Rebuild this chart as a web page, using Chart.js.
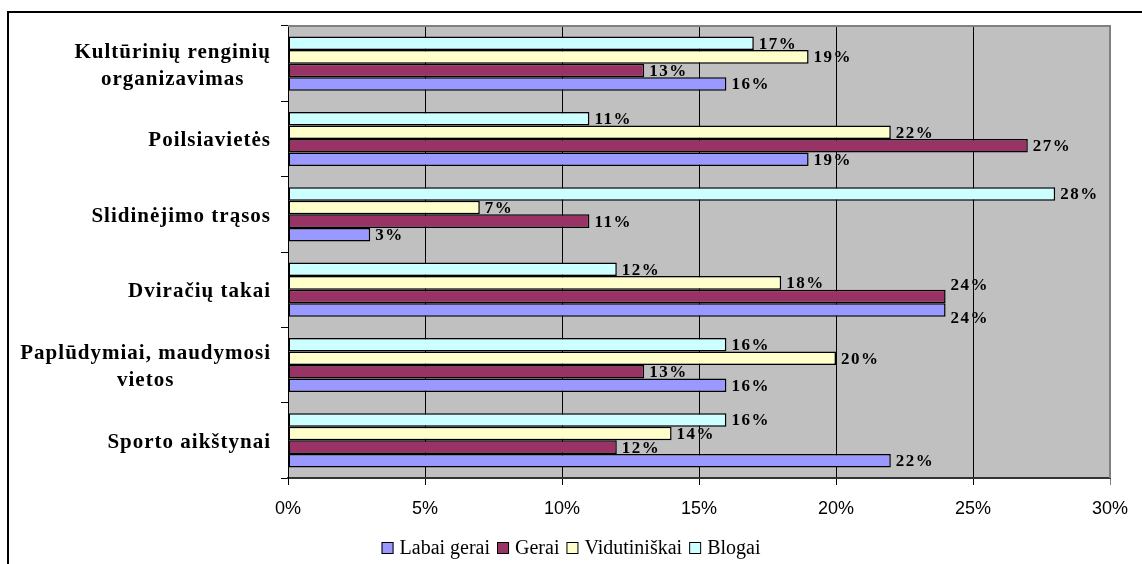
<!DOCTYPE html>
<html>
<head>
<meta charset="utf-8">
<script src="https://cdn.jsdelivr.net/npm/chart.js@4/dist/chart.umd.min.js"></script>
<style>
  html, body { margin: 0; padding: 0; background: #fff; }
  #wrap { position: relative; width: 1142px; height: 564px; overflow: hidden; }
  #frame { position: absolute; left: 7px; top: 11px; width: 1200px; height: 600px; border: 2px solid #000; }
  #statsChart { position: absolute; left: 0; top: 0; }
</style>
</head>
<body>
<div id="wrap">
  <div id="frame"></div>
  <canvas id="statsChart" width="1142" height="564"></canvas>
</div>
<script>
// categories, top to bottom
const categories = [
  ['Kultūrinių renginių', 'organizavimas'],
  ['Poilsiavietės'],
  ['Slidinėjimo trąsos'],
  ['Dviračių takai'],
  ['Paplūdymiai, maudymosi', 'vietos'],
  ['Sporto aikštynai']
];

// series values (%)
const labaiGerai   = [16, 19, 3, 24, 16, 22];
const gerai        = [13, 27, 11, 24, 13, 12];
const vidutiniskai = [19, 22, 7, 18, 20, 14];
const blogai       = [17, 11, 28, 12, 16, 16];

const xTicks = [0, 5, 10, 15, 20, 25, 30];

// legend order as in the picture
const legendOrder = ['Labai gerai', 'Gerai', 'Vidutiniškai', 'Blogai'];

const colors = {
  'Labai gerai': '#9999FF',
  'Gerai': '#993366',
  'Vidutiniškai': '#FFFFCC',
  'Blogai': '#CCFFFF'
};

document.addEventListener('DOMContentLoaded', () => {
  const ctx = document.getElementById('statsChart').getContext('2d');

  // gray plot background
  const plotBg = {
    id: 'plotBg',
    beforeDraw(chart) {
      const a = chart.chartArea, c = chart.ctx;
      c.save();
      c.fillStyle = '#C0C0C0';
      c.fillRect(a.left, a.top, a.right - a.left, a.bottom - a.top);
      c.restore();
    },
    afterDraw(chart) {
      const a = chart.chartArea, c = chart.ctx;
      c.save();
      c.strokeStyle = '#808080';
      c.lineWidth = 2;
      c.beginPath();
      c.moveTo(a.left, a.top);
      c.lineTo(a.right, a.top);
      c.lineTo(a.right, a.bottom);
      c.stroke();
      c.restore();
    }
  };

  // category labels: right aligned block, lines centred to each other
  const catLabels = {
    id: 'catLabels',
    afterDraw(chart) {
      const c = chart.ctx, y = chart.scales.y;
      c.save();
      c.font = 'bold 21px "Liberation Serif"';
      c.letterSpacing = '1px';
      c.fillStyle = '#000';
      c.textAlign = 'center';
      c.textBaseline = 'middle';
      const right = 271, lh = 27;
      categories.forEach((lines, i) => {
        const cy = y.getPixelForValue(i) + 2;
        const w = Math.max(...lines.map(l => c.measureText(l).width));
        const cx = right - w / 2;
        lines.forEach((l, k) => {
          c.fillText(l, cx, cy + (k - (lines.length - 1) / 2) * lh);
        });
      });
      c.restore();
    }
  };

  // value labels at the end of each bar
  const valueLabels = {
    id: 'valueLabels',
    afterDatasetsDraw(chart) {
      const c = chart.ctx;
      c.save();
      c.font = 'bold 17px "Liberation Serif"';
      c.letterSpacing = '1.5px';
      c.fillStyle = '#000';
      c.textAlign = 'left';
      c.textBaseline = 'middle';
      const items = [];
      chart.data.datasets.forEach((ds, di) => {
        chart.getDatasetMeta(di).data.forEach((bar, i) => {
          items.push({ i, di, x: bar.x + 5, y: bar.y + 1, text: ds.data[i] + '%' });
        });
      });
      // push apart labels that sit on top of each other
      items.forEach(a => {
        items.forEach(b => {
          if (a.i === b.i && b.di === a.di + 1 && Math.abs(a.x - b.x) < 4) {
            a.y -= 12; b.y += 8;
          }
        });
      });
      items.forEach(it => c.fillText(it.text, it.x, it.y));
      c.restore();
    }
  };

  // legend drawn below the axis
  const bottomLegend = {
    id: 'bottomLegend',
    afterDraw(chart) {
      const c = chart.ctx;
      c.save();
      c.font = '20px "Liberation Serif"';
      c.textBaseline = 'middle';
      const box = 12, gapText = 6, gapItem = 7, cy = 548;
      const widths = legendOrder.map(n => box + gapText + c.measureText(n).width);
      const total = widths.reduce((s, w) => s + w, 0) + gapItem * (legendOrder.length - 1);
      let x = chart.width / 2 - total / 2;
      legendOrder.forEach((n, k) => {
        c.fillStyle = colors[n];
        c.fillRect(x, cy - box / 2, box, box);
        c.strokeStyle = '#000';
        c.lineWidth = 1;
        c.strokeRect(x + 0.5, cy - box / 2 + 0.5, box - 1, box - 1);
        c.fillStyle = '#000';
        c.fillText(n, x + box + gapText, cy + 1);
        x += widths[k] + gapItem;
      });
      c.restore();
    }
  };

  const ds = (label, data) => ({
    label, data,
    backgroundColor: colors[label],
    borderColor: '#000',
    borderWidth: 1.5,
    borderSkipped: false,
    barPercentage: 1,
    categoryPercentage: 0.72
  });

  new Chart(ctx, {
    type: 'bar',
    data: {
      labels: categories,
      datasets: [
        ds('Blogai', blogai),
        ds('Vidutiniškai', vidutiniskai),
        ds('Gerai', gerai),
        ds('Labai gerai', labaiGerai)
      ]
    },
    options: {
      indexAxis: 'y',
      responsive: false,
      animation: false,
      layout: { padding: { top: 26, right: 32, left: 0, bottom: 0 } },
      scales: {
        x: {
          min: 0, max: 30,
          afterBuildTicks(scale) { scale.ticks = xTicks.map(v => ({ value: v })); },
          afterFit(scale) { scale.height = 86; },
          grid: {
            color: ctx2 => ctx2.tick && ctx2.tick.value === 30 ? '#808080' : '#000',
            lineWidth: 1,
            tickLength: 7
          },
          border: { color: '#333', width: 2 },
          ticks: {
            color: '#000',
            padding: 13,
            font: { family: '"Liberation Sans"', size: 18 },
            callback: v => v + '%'
          }
        },
        y: {
          afterFit(scale) { scale.width = 288; },
          grid: { drawOnChartArea: false, color: '#000', tickLength: 7, offset: true },
          border: { color: '#000', width: 1 },
          ticks: { display: false }
        }
      },
      plugins: {
        legend: { display: false },
        tooltip: { enabled: false }
      }
    },
    plugins: [plotBg, catLabels, valueLabels, bottomLegend]
  });
});
</script>
</body>
</html>
